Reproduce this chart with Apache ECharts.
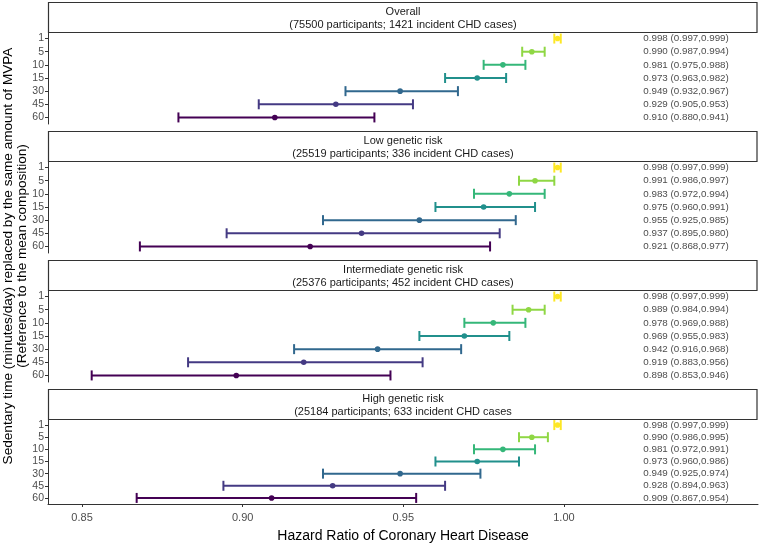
<!DOCTYPE html>
<html>
<head>
<meta charset="utf-8">
<script src="https://cdn.jsdelivr.net/npm/echarts@6/dist/echarts.min.js"></script>
<style>
html,body{margin:0;padding:0;background:#fff;}
#chart{width:760px;height:544px;}
</style>
</head>
<body>
<div id="chart"></div>
<script>
// ---- data ----
var categories = ['1', '5', '10', '15', '30', '45', '60'];
var colors = ['#FDE725', '#8FD744', '#35B779', '#21908C', '#31688E', '#443A83', '#440154'];
var panelTitles = [
  'Overall',
  'Low genetic risk',
  'Intermediate genetic risk',
  'High genetic risk'
];
var panelSubtitles = [
  '(75500 participants; 1421 incident CHD cases)',
  '(25519 participants; 336 incident CHD cases)',
  '(25376 participants; 452 incident CHD cases)',
  '(25184 participants; 633 incident CHD cases'
];
var overallEst = [0.998, 0.990, 0.981, 0.973, 0.949, 0.929, 0.910];
var overallLo  = [0.997, 0.987, 0.975, 0.963, 0.932, 0.905, 0.880];
var overallHi  = [0.999, 0.994, 0.988, 0.982, 0.967, 0.953, 0.941];
var lowEst = [0.998, 0.991, 0.983, 0.975, 0.955, 0.937, 0.921];
var lowLo  = [0.997, 0.986, 0.972, 0.960, 0.925, 0.895, 0.868];
var lowHi  = [0.999, 0.997, 0.994, 0.991, 0.985, 0.980, 0.977];
var interEst = [0.998, 0.989, 0.978, 0.969, 0.942, 0.919, 0.898];
var interLo  = [0.997, 0.984, 0.969, 0.955, 0.916, 0.883, 0.853];
var interHi  = [0.999, 0.994, 0.988, 0.983, 0.968, 0.956, 0.946];
var highEst = [0.998, 0.990, 0.981, 0.973, 0.949, 0.928, 0.909];
var highLo  = [0.997, 0.986, 0.972, 0.960, 0.925, 0.894, 0.867];
var highHi  = [0.999, 0.995, 0.991, 0.986, 0.974, 0.963, 0.954];
var xTicks = [0.85, 0.90, 0.95, 1.00];
var labelX = 1.038;
var xMin = 0.8394, xMax = 1.0604;

var panels = [
  [overallEst, overallLo, overallHi],
  [lowEst, lowLo, lowHi],
  [interEst, interLo, interHi],
  [highEst, highLo, highHi]
];

// ---- layout ----
var L = 48, R = 758, panelH = 92, stripH = 30, period = 129, top0 = 2;
var FONT = '"Liberation Sans", Arial, Helvetica, sans-serif';

var grids = [], xAxes = [], yAxes = [], series = [], graphics = [];
panels.forEach(function (p, i) {
  var stripTop = top0 + i * period;
  var gridTop = stripTop + stripH;
  grids.push({ left: L, top: gridTop, width: R - L, height: panelH, containLabel: false });
  var last = i === panels.length - 1;
  xAxes.push({
    type: 'value', gridIndex: i, min: xMin, max: xMax,
    show: last,
    splitLine: { show: false },
    axisLine: { show: last, onZero: false, lineStyle: { color: '#333333', width: 1 } },
    axisTick: { show: last, customValues: xTicks, length: 3, lineStyle: { color: '#333333' } },
    axisLabel: {
      show: last, customValues: xTicks, color: '#4D4D4D', fontSize: 11, fontFamily: FONT, margin: 8,
      formatter: function (v) { return v.toFixed(2); }
    },
    name: last ? 'Hazard Ratio of Coronary Heart Disease' : '',
    nameLocation: 'middle', nameGap: 25,
    nameTextStyle: { fontSize: 14, color: '#000', fontFamily: FONT }
  });
  yAxes.push({
    type: 'category', gridIndex: i, data: categories, inverse: true,
    axisLine: { show: true, lineStyle: { color: '#333333', width: 1 } },
    axisTick: { show: true, alignWithLabel: true, interval: 0, length: 3, lineStyle: { color: '#333333' } },
    axisLabel: { interval: 0, color: '#4D4D4D', fontSize: 10.5, fontFamily: FONT, margin: 4 },
    splitLine: { show: false }
  });

  var est = p[0], lo = p[1], hi = p[2];
  var rows = categories.map(function (c, k) { return [est[k], k, lo[k], hi[k]]; });

  // error bars
  series.push({
    type: 'custom', xAxisIndex: i, yAxisIndex: i, data: rows,
    encode: { x: [2, 3], y: 1 },
    renderItem: function (params, api) {
      var k = api.value(1);
      var a = api.coord([api.value(2), k]);
      var b = api.coord([api.value(3), k]);
      var c = api.coord([api.value(0), k]);
      var col = colors[k];
      var h = 5;
      var st = { stroke: col, lineWidth: 2 };
      return {
        type: 'group',
        children: [
          { type: 'line', shape: { x1: a[0], y1: a[1], x2: b[0], y2: b[1] }, style: st },
          { type: 'line', shape: { x1: a[0], y1: a[1] - h, x2: a[0], y2: a[1] + h }, style: st },
          { type: 'line', shape: { x1: b[0], y1: b[1] - h, x2: b[0], y2: b[1] + h }, style: st },
          { type: 'circle', shape: { cx: c[0], cy: c[1], r: 2.8 }, style: { fill: col } }
        ]
      };
    },
    silent: true, animation: false
  });
  // text labels
  series.push({
    type: 'custom', xAxisIndex: i, yAxisIndex: i,
    data: categories.map(function (c, k) { return [labelX, k, est[k], lo[k], hi[k]]; }),
    encode: { x: 0, y: 1 },
    renderItem: function (params, api) {
      var pt = api.coord([api.value(0), api.value(1)]);
      var txt = api.value(2).toFixed(3) + ' (' + api.value(3).toFixed(3) + ',' + api.value(4).toFixed(3) + ')';
      return {
        type: 'text',
        style: {
          x: pt[0], y: pt[1], text: txt, textAlign: 'center', textVerticalAlign: 'middle',
          fill: '#4D4D4D', fontSize: 9.8, fontFamily: FONT
        }
      };
    },
    silent: true, animation: false
  });

  // strip
  graphics.push({
    type: 'rect', shape: { x: L + 0.5, y: stripTop + 0.5, width: R - L - 1.5, height: stripH },
    style: { fill: '#FFFFFF', stroke: '#333333', lineWidth: 1.2 }, silent: true
  });
  graphics.push({
    type: 'text', x: (L + R) / 2, y: stripTop + 9.5,
    style: { text: panelTitles[i], textAlign: 'center', textVerticalAlign: 'middle', fill: '#1A1A1A', fontSize: 11, fontFamily: FONT },
    silent: true
  });
  graphics.push({
    type: 'text', x: (L + R) / 2, y: stripTop + 22.5,
    style: { text: panelSubtitles[i], textAlign: 'center', textVerticalAlign: 'middle', fill: '#1A1A1A', fontSize: 11, fontFamily: FONT },
    silent: true
  });
});

// y axis title (two lines, rotated)
graphics.push({
  type: 'text', x: 8, y: 256, rotation: Math.PI / 2,
  style: { text: 'Sedentary time (minutes/day) replaced by the same amount of MVPA', textAlign: 'center', textVerticalAlign: 'middle', fill: '#000', fontSize: 13.6, fontFamily: FONT },
  silent: true
});
graphics.push({
  type: 'text', x: 22, y: 256, rotation: Math.PI / 2,
  style: { text: '(Reference to the mean composition)', textAlign: 'center', textVerticalAlign: 'middle', fill: '#000', fontSize: 13.6, fontFamily: FONT },
  silent: true
});

var chart = echarts.init(document.getElementById('chart'), null, { renderer: 'canvas' });
chart.setOption({
  animation: false,
  backgroundColor: '#FFFFFF',
  grid: grids,
  xAxis: xAxes,
  yAxis: yAxes,
  series: series,
  graphic: graphics
});
</script>
</body>
</html>
